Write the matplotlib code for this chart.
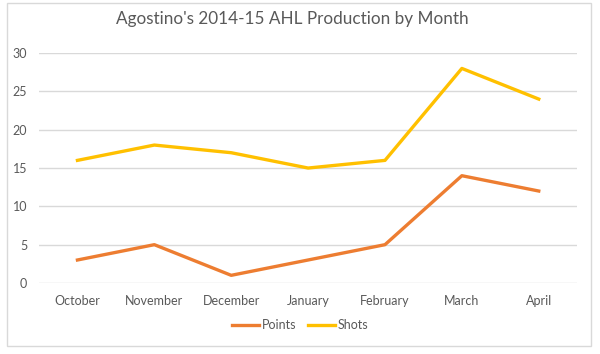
import matplotlib.pyplot as plt
from matplotlib.patches import Rectangle

months = ['October', 'November', 'December', 'January', 'February', 'March', 'April']
points = [3, 5, 1, 3, 5, 14, 12]
shots = [16, 18, 17, 15, 16, 28, 24]

plt.rcParams['font.family'] = ['Lato', 'DejaVu Sans']
txt = '#595959'

fig = plt.figure(figsize=(6, 3.54), dpi=100)
# chart border
fig.patches.append(Rectangle((0.0117, 0.0226), 0.973, 0.969, transform=fig.transFigure,
                             fill=False, edgecolor='#D9D9D9', linewidth=1))
ax = fig.add_axes([0.065, 0.2006, 0.897, 0.6494])

x = range(len(months))
ax.plot(x, points, color='#ED7D31', linewidth=2.4, label='Points')
ax.plot(x, shots, color='#FFC000', linewidth=2.4, label='Shots')

ax.set_xlim(-0.5, len(months) - 0.5)
ax.set_ylim(0, 30)
ax.set_yticks(range(0, 31, 5))
ax.set_xticks(list(x))
ax.set_xticklabels(months)
ax.grid(axis='y', color='#D9D9D9', linewidth=1)
ax.set_axisbelow(True)
for s in ax.spines.values():
    s.set_visible(False)
ax.tick_params(length=0, colors=txt, labelsize=9)
ax.tick_params(axis='x', pad=9)
ax.tick_params(axis='y', pad=8.5)

fig.text(0.487, 0.946, "Agostino's 2014-15 AHL Production by Month",
         ha='center', va='center', fontsize=12.3, color=txt)
fig.legend(loc='center', bbox_to_anchor=(0.5, 0.082), ncol=2, frameon=False,
           fontsize=9, labelcolor=txt, handlelength=2.2, columnspacing=0.9, handletextpad=0.2)

fig.savefig('out.png')
